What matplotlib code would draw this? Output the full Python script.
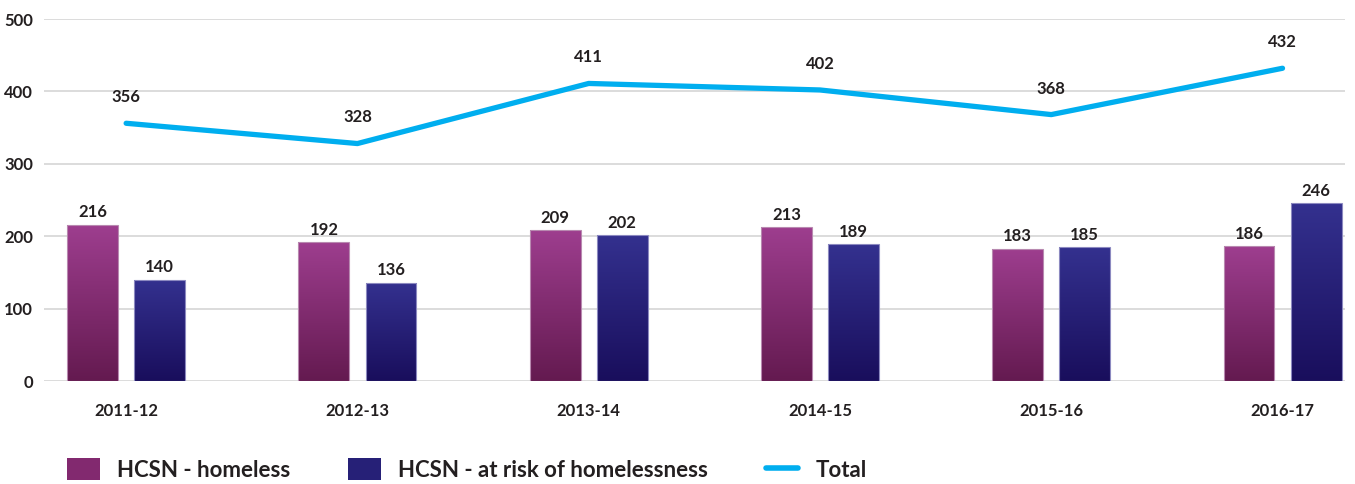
import numpy as np
import matplotlib
matplotlib.use("Agg")
import matplotlib.pyplot as plt
from matplotlib.colors import LinearSegmentedColormap
from matplotlib.patches import Patch
from matplotlib.lines import Line2D

years = ["2011-12", "2012-13", "2013-14", "2014-15", "2015-16", "2016-17"]
homeless = [216, 192, 209, 213, 183, 186]
at_risk = [140, 136, 202, 189, 185, 246]
total = [356, 328, 411, 402, 368, 432]

plt.rcParams["font.family"] = ["Lato", "DejaVu Sans"]
plt.rcParams["font.weight"] = "bold"
TXT = "#231f20"

fig = plt.figure(figsize=(13.55, 4.84), dpi=100)
ax = fig.add_axes([0.0325, 0.2128, 0.9601, 0.7479])

x = np.arange(len(years))
w = 0.22
off = 0.145

pink_cm = LinearSegmentedColormap.from_list("pink", ["#641a50", "#9e3e8f"])
blue_cm = LinearSegmentedColormap.from_list("blue", ["#190e5c", "#34318f"])
grad = np.linspace(0, 1, 256).reshape(-1, 1)

def gradient_bars(xs, vals, cmap, edge):
    bars = ax.bar(xs, vals, width=w, color="none", edgecolor=edge, linewidth=0.8, zorder=3)
    for b in bars:
        x0, y0 = b.get_x(), b.get_y()
        im = ax.imshow(grad, cmap=cmap, origin="lower", aspect="auto",
                       extent=[x0, x0 + b.get_width(), y0, y0 + b.get_height()], zorder=2)
        im.set_clip_path(b)
    return bars

gradient_bars(x - off, homeless, pink_cm, "#b889b0")
gradient_bars(x + off, at_risk, blue_cm, "#8c89c0")

for xi, v in zip(x - off, homeless):
    ax.annotate(str(v), (xi, v), xytext=(0, 3), textcoords="offset points",
                ha="center", va="bottom", fontsize=12, color=TXT, fontweight="bold")
for xi, v in zip(x + off, at_risk):
    ax.annotate(str(v), (xi, v), xytext=(0, 3), textcoords="offset points",
                ha="center", va="bottom", fontsize=12, color=TXT, fontweight="bold")

ax.plot(x, total, color="#00aeef", linewidth=3.8, solid_capstyle="round",
        solid_joinstyle="round", zorder=4)
for xi, v in zip(x, total):
    ax.annotate(str(v), (xi, v), xytext=(0, 13), textcoords="offset points",
                ha="center", va="bottom", fontsize=12, color=TXT, fontweight="bold")

ax.set_xlim(-0.355, 5.27)
ax.set_ylim(0, 500)
ax.set_yticks([0, 100, 200, 300, 400, 500])
ax.set_xticks(x)
ax.set_xticklabels(years)
ax.tick_params(axis="both", length=0, labelsize=12, colors=TXT)
ax.tick_params(axis="x", pad=16)
ax.tick_params(axis="y", pad=8)
for lbl in ax.get_xticklabels() + ax.get_yticklabels():
    lbl.set_fontweight("bold")
ax.grid(axis="y", color="#d9d9d9", linewidth=1.3, zorder=0)
ax.set_axisbelow(True)
for s in ax.spines.values():
    s.set_visible(False)

handles = [
    Patch(facecolor="#82296f", edgecolor="none"),
    Patch(facecolor="#262077", edgecolor="none"),
    Line2D([0], [0], color="#00aeef", linewidth=4, solid_capstyle="round"),
]
labels = ["HCSN - homeless", "HCSN - at risk of homelessness", "Total"]
fig.legend(handles, labels, loc="lower left", bbox_to_anchor=(0.035, -0.035), ncol=3,
           frameon=False, prop={"size": 16, "weight": "bold"}, labelcolor=TXT,
           handlelength=1.45, handleheight=1.15, handletextpad=0.8, columnspacing=2.6)

fig.savefig("out.png", dpi=100)
